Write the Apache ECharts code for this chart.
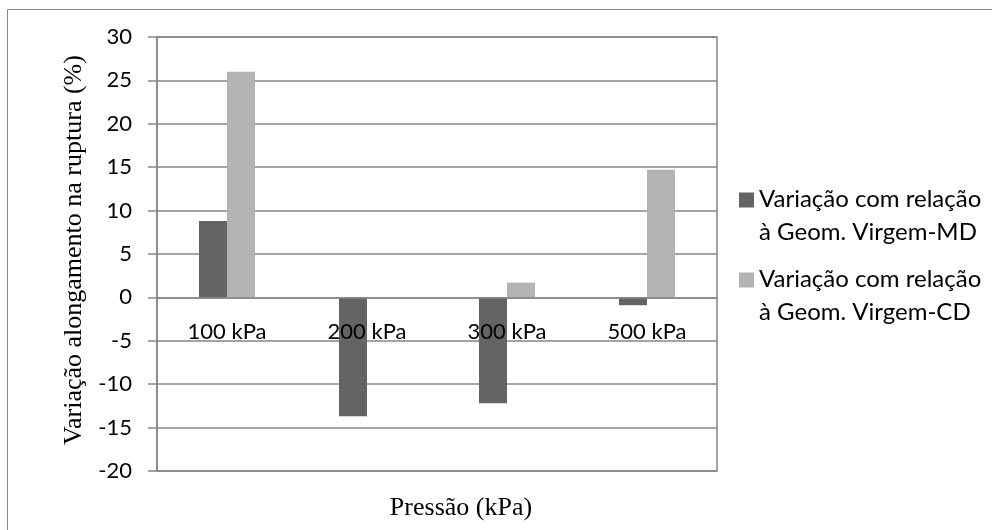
<!DOCTYPE html>
<html><head><meta charset="utf-8">
<script src="https://cdn.jsdelivr.net/npm/echarts@6/dist/echarts.min.js"></script>
<style>html,body{margin:0;padding:0;background:#fff}#c{width:992px;height:530px}</style>
</head><body><div id="c"></div>
<script>
var categories = ['100 kPa', '200 kPa', '300 kPa', '500 kPa'];
var seriesMD = [8.8, -13.7, -12.2, -0.9];
var seriesCD = [26.0, 0, 1.7, 14.7];
var seriesNames = ['Variação com relação\nà Geom. Virgem-MD', 'Variação com relação\nà Geom. Virgem-CD'];
var yTicks = [-20, 30, 5];

var chart = echarts.init(document.getElementById('c'), null, {renderer: 'canvas'});
var sans = 'Lato';
var serif = 'Liberation Serif';
var gridTop = 37, gridH = 434;
chart.setOption({
  animation: false,
  backgroundColor: '#fff',
  graphic: [{type: 'rect', shape: {x: 7.5, y: 9.5, width: 990, height: 530}, style: {fill: 'none', stroke: '#868686', lineWidth: 1}, silent: true}],
  title: {text: 'Pressão (kPa)', left: 456, top: 490, textAlign: 'center',
    textStyle: {fontFamily: serif, fontSize: 26, fontWeight: 'normal', color: '#000'}},
  grid: {left: 157, top: gridTop, width: 560, height: gridH, show: true, borderColor: '#868686', borderWidth: 1.5},
  legend: {orient: 'vertical', left: 739, top: 183, padding: 0, itemWidth: 15, itemHeight: 47, itemGap: 14,
    icon: 'path://M0,0h15v15h-15z M0,46.99h0.01v0.01h-0.01z', data: seriesNames,
    textStyle: {fontFamily: sans, fontSize: 24, color: '#000', lineHeight: 33}},
  xAxis: {type: 'category', data: categories, z: 10,
    axisLine: {onZero: true, lineStyle: {color: '#868686', width: 1.5}},
    axisTick: {show: false},
    axisLabel: {fontFamily: sans, fontSize: 22, color: '#000', margin: 24}},
  yAxis: {type: 'value', min: yTicks[0], max: yTicks[1], interval: yTicks[2],
    name: 'Variação alongamento na ruptura (%)', nameLocation: 'middle', nameGap: 62,
    nameTextStyle: {fontFamily: serif, fontSize: 26, color: '#000', padding: [0, 0, 0, 8]},
    axisLine: {show: true, lineStyle: {color: '#868686', width: 1.5}},
    axisTick: {show: true, length: 9, lineStyle: {color: '#868686', width: 1.5}},
    splitLine: {lineStyle: {color: '#868686', width: 1.5}},
    axisLabel: {fontFamily: sans, fontSize: 22, color: '#000', margin: 25}},
  series: [
    {name: seriesNames[0], type: 'bar', data: seriesMD, barWidth: 28, barGap: '0%',
      itemStyle: {color: '#646464'}},
    {name: seriesNames[1], type: 'bar', data: seriesCD, barWidth: 28, barGap: '0%',
      itemStyle: {color: '#b3b3b3'}}
  ]
});
var zeroY = chart.convertToPixel({yAxisIndex: 0}, 0);
var bottomY = gridTop + gridH;
chart.setOption({xAxis: {axisLine: {onZero: false}, offset: zeroY - bottomY}});
</script></body></html>
